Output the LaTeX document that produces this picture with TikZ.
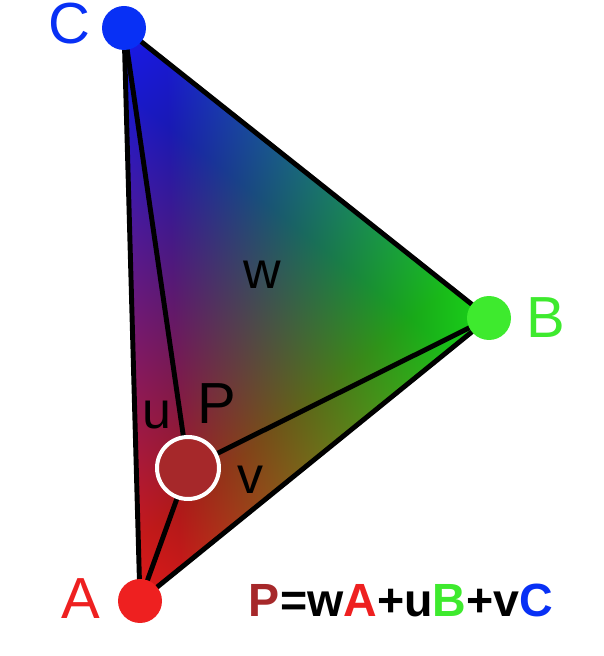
\documentclass[tikz,border=0pt]{standalone}
\usepackage{fontspec}
\setmainfont{Liberation Sans}
\definecolor{ptred}{RGB}{238,32,32}
\definecolor{ptgreen}{RGB}{62,234,46}
\definecolor{ptblue}{RGB}{8,48,245}
\definecolor{ptbrown}{RGB}{166,40,42}
\tikzset{
  vdot/.style={circle, fill=#1, minimum size=0.88cm, inner sep=0pt},
  vlabel/.style={text=#1, font=\fontsize{33}{33}\selectfont, inner sep=0pt},
  wlabel/.style={font=\fontsize{29.6}{29.6}\selectfont, inner sep=0pt},
  edge/.style={line width=2.8pt, line join=round},
}
\begin{document}
\begin{tikzpicture}[x=0.02cm, y=0.02cm]
	\useasboundingbox (0,0) rectangle (604,656);
	\coordinate (A) at (140,55);
	\coordinate (B) at (489,338);
	\coordinate (C) at (124,628);
	\coordinate (P) at (188,188);
	% Colour ramps (one per corner), added with lighten
	\begin{scope}
		\clip (A) -- (B) -- (C) -- cycle;
		\fill[black!90] (A) -- (B) -- (C) -- cycle;
		\begin{scope}[blend mode=lighten]
			\shade[transform canvas={shift={(B)}, rotate=141.53}, bottom color=black, top color=red!88!black] (-100,0) rectangle (600,438.7);
			\shade[transform canvas={shift={(C)}, rotate=-88.40}, bottom color=black, top color=green!84!black] (-100,0) rectangle (700,356.8);
			\shade[transform canvas={shift={(A)}, rotate=39.04}, bottom color=black, top color=blue!92!black] (-100,0) rectangle (600,455.1);
		\end{scope}
	\end{scope}
	% Triangle and the lines to P
	\draw[edge] (A) -- (B) -- (C) -- cycle;
	\draw[edge] (P) -- (A) (P) -- (B) (P) -- (C);
	% Corner dots
	\node[vdot=ptred] (Adot) at (A) {};
	\node[vdot=ptgreen] (Bdot) at (B) {};
	\node[vdot=ptblue] (Cdot) at (C) {};
	\node[circle, fill=ptbrown, draw=white, line width=0.08cm, minimum size=1.24cm, inner sep=0pt] (Pdot) at (P) {};
	% Labels
	\node[vlabel=ptblue] (Clab) at (69,632) {C};
	\node[vlabel=ptgreen] (Blab) at (546,338) {B};
	\node[vlabel=ptred] (Alab) at (81,57) {A};
	\node[vlabel=black] (Plab) at (217,252) {P};
	\node[wlabel] (ulab) at (157,241) {u};
	\node[wlabel] (vlab) at (250,176) {v};
	\node[wlabel] (wlab) at (262,381) {w};
	\node[font=\bfseries\fontsize{26.5}{26.5}\selectfont, inner sep=0pt] (formula) at (401,56) {\textcolor{ptbrown}{P}=w\textcolor{ptred}{A}+u\textcolor{ptgreen}{B}+v\textcolor{ptblue}{C}};
\end{tikzpicture}
\end{document}
